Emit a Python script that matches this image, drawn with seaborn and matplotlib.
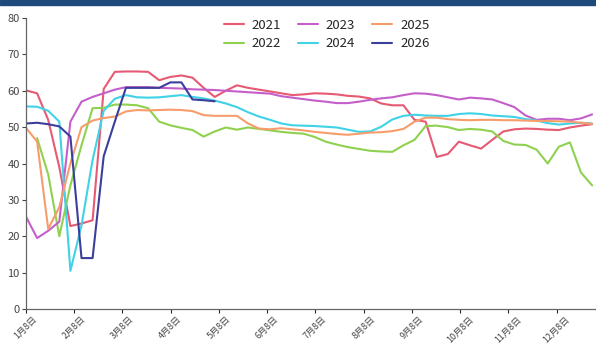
import numpy as np
import pandas as pd
import seaborn as sns
import matplotlib.pyplot as plt
from matplotlib.patches import Rectangle

sns.set_style("white")
plt.rcParams['font.family'] = ['Noto Sans CJK SC', 'DejaVu Sans']
plt.rcParams['axes.unicode_minus'] = False

# 周度数据，第0周对应1月8日
years = ['2021', '2022', '2023', '2024', '2025', '2026']
colors = ['#e65a73', '#8fd14f', '#c45fca', '#40d2e6', '#f79d6c', '#3b3f9b']
month_labels = ['1月8日', '2月8日', '3月8日', '4月8日', '5月8日', '6月8日',
                '7月8日', '8月8日', '9月8日', '10月8日', '11月8日', '12月8日']

v2021 = [60.1, 59.3, 52, 39, 22.8, 23.5, 24.4, 60.5, 65.2, 65.3, 65.3, 65.2, 62.9,
         63.8, 64.2, 63.6, 60.8, 58.3, 60, 61.5, 60.8, 60.3, 59.8, 59.3, 58.8, 59,
         59.3, 59.2, 59, 58.6, 58.4, 57.9, 56.5, 56, 56, 52, 51.5, 41.8, 42.6, 46,
         45, 44.1, 46.5, 48.8, 49.4, 49.6, 49.5, 49.3, 49.2, 49.9, 50.4, 50.8]
v2022 = [np.nan, 47, 37, 20, 34, 45, 55.2, 55.3, 56.2, 56.2, 56, 55.2, 51.5,
         50.5, 49.8, 49.2, 47.4, 48.8, 49.9, 49.3, 49.9, 49.5, 49.1, 48.7, 48.4, 48.2,
         47.3, 46, 45.2, 44.5, 44, 43.5, 43.3, 43.2, 45, 46.5, 50.3, 50.4, 50, 49.2,
         49.5, 49.3, 48.8, 46.2, 45.2, 45.1, 43.8, 40, 44.6, 45.8, 37.5, 34]
v2023 = [25.4, 19.5, 21.5, 24, 51.5, 57, 58.3, 59.3, 60.3, 61, 61, 61, 60.8,
         60.7, 60.6, 60.4, 60.3, 60.2, 60, 59.8, 59.6, 59.4, 59.2, 58.5, 58.1, 57.7,
         57.3, 57, 56.6, 56.6, 57, 57.5, 57.9, 58.2, 58.8, 59.3, 59.2, 58.8, 58.2, 57.6,
         58.1, 57.9, 57.6, 56.6, 55.5, 53.2, 52, 52.3, 52.3, 51.9, 52.4, 53.5]
v2024 = [55.7, 55.6, 54.5, 51.5, 10.5, 23, 41, 54.5, 57.8, 58.8, 58.2, 58.1, 58.2,
         58.5, 58.8, 58.3, 57.9, 57.3, 56.5, 55.5, 54.1, 52.9, 52, 51, 50.5, 50.4,
         50.3, 50.1, 49.9, 49.3, 48.7, 48.8, 50.1, 52.1, 53.1, 53.4, 53.2, 53.1, 53.1, 53.6,
         53.8, 53.6, 53.2, 53, 52.8, 52.2, 51.8, 51.1, 50.7, 51, 51.2, 51]
v2025 = [49.8, 46, 22, 28, 40, 50, 51.8, 52.5, 52.9, 54.3, 54.7, 54.6, 54.7,
         54.8, 54.7, 54.4, 53.3, 53.1, 53.1, 53.1, 51, 49.6, 49.4, 49.7, 49.4, 49.1,
         48.7, 48.4, 48.1, 47.9, 48.2, 48.5, 48.6, 48.9, 49.5, 51.5, 52.6, 52.6, 52.2, 52,
         51.9, 52, 52, 51.9, 51.9, 51.8, 51.7, 51.7, 51.6, 51.5, 51.2, 50.9]
v2026 = [51, 51.2, 50.8, 50.2, 47.4, 14, 14, 42, 51.5, 60.8, 60.8, 60.8, 60.8,
         62.3, 62.3, 57.6, 57.4, 57.1]

series = [v2021, v2022, v2023, v2024, v2025, v2026]
rows = []
for y, vals in zip(years, series):
    for w, v in enumerate(vals):
        rows.append({'week': w, 'value': v, 'year': y})
df = pd.DataFrame(rows).dropna()

fig = plt.figure(figsize=(5.96, 3.46), dpi=100)
fig.patches.append(Rectangle((0, 1 - 5 / 346), 1, 5 / 346, transform=fig.transFigure,
                             color='#1f4a7c', zorder=0))
ax = fig.add_axes([26 / 596, 37 / 346, 1 - 26 / 596, 291 / 346])

sns.lineplot(data=df, x='week', y='value', hue='year', palette=dict(zip(years, colors)),
             linewidth=1.5, estimator=None, sort=False, ax=ax)

ax.set_xlim(0, 51.35)
ax.set_ylim(0, 80)
ax.set_yticks(range(0, 81, 10))
ax.set_xticks(np.arange(12) * 52.14 / 12)
ax.set_xticklabels(month_labels, rotation=45, ha='center', fontsize=6.5, color='#444444')
ax.tick_params(axis='y', labelsize=8, colors='#444444', length=3, width=0.8, pad=1.5, left=True)
ax.tick_params(axis='x', length=3, width=0.8, pad=1, bottom=True)
ax.set_xlabel('')
ax.set_ylabel('')
for s in ['top', 'right']:
    ax.spines[s].set_visible(False)
for s in ['left', 'bottom']:
    ax.spines[s].set_color('#666666')
    ax.spines[s].set_linewidth(0.9)

ax.legend(ncol=3, frameon=False, loc='upper left', fontsize=9.5,
          bbox_to_anchor=(212 / 596, 1 - 7 / 346), bbox_transform=fig.transFigure,
          handlelength=1.5, handletextpad=0.6, columnspacing=1.3, labelspacing=0.4)

fig.savefig('out.png', dpi=100)
